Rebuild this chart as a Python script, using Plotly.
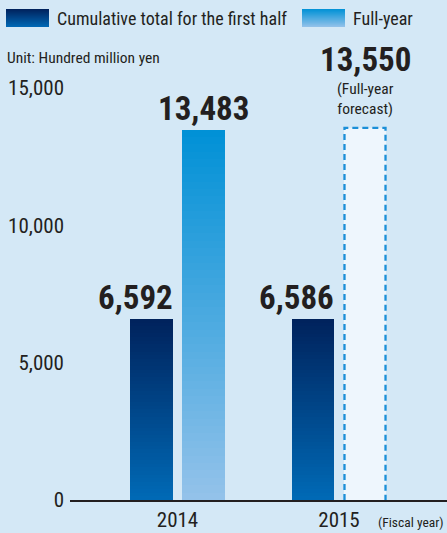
import plotly.graph_objects as go

# ---- data ----
years = ["2014", "2015"]
first_half = [6592, 6586]
full_year = [13483, 13550]
full_year_is_forecast = [False, True]
y_ticks = [0, 5000, 10000, 15000]
y_tick_labels = ["0", "5,000", "10,000", "15,000"]

# ---- style ----
W, H = 447, 533
ML, MR, MT, MB = 70, 0, 88, 33
PW, PH = W - ML - MR, H - MT - MB
BG = "#d4e8f6"
TXT = "#231f20"
FONT = "Roboto Condensed, Liberation Sans Narrow, Arial Narrow, sans-serif"
DARK = ((0, 34, 92), (0, 106, 182))      # top, bottom
LIGHT = ((0, 145, 214), (148, 194, 234))
FC_FILL = "#eef6fd"
FC_LINE = "#1b8fd8"

BAR_W = 0.266
OFF_HALF = -0.294
OFF_FULL = 0.028
N = 50


def mix(c, t):
    a, b = c
    return "rgb(%d,%d,%d)" % tuple(round(a[i] + (b[i] - a[i]) * t) for i in range(3))


def px_x(p):
    return (p - ML) / PW


def px_y(p):
    return (MT + PH - p) / PH


fig = go.Figure()


def gradient_bar(xs, vals, cols, offset):
    X, Y, B, C = [], [], [], []
    for xi, v in zip(xs, vals):
        for i in range(N):
            X.append(xi)
            Y.append(v / N)
            B.append(v * i / N)
            # i = 0 bottom segment
            C.append(mix(cols, 1 - (i + 0.5) / N))
    fig.add_trace(go.Bar(x=X, y=Y, base=B, width=BAR_W, offset=offset,
                         marker=dict(color=C, line=dict(width=0)),
                         showlegend=False, hoverinfo="skip"))


xpos = list(range(len(years)))
gradient_bar(xpos, first_half, DARK, OFF_HALF)
act_x = [x for x, f in zip(xpos, full_year_is_forecast) if not f]
act_v = [v for v, f in zip(full_year, full_year_is_forecast) if not f]
gradient_bar(act_x, act_v, LIGHT, OFF_FULL)

# forecast bar
for x, v, f in zip(xpos, full_year, full_year_is_forecast):
    if f:
        fig.add_trace(go.Bar(x=[x], y=[v], width=BAR_W, offset=OFF_FULL,
                             marker=dict(color=FC_FILL, line=dict(width=0)),
                             showlegend=False, hoverinfo="skip"))
        x0, x1 = x + OFF_FULL + 0.006, x + OFF_FULL + BAR_W - 0.006
        fig.add_trace(go.Scatter(x=[x0, x0, x1, x1], y=[0, v, v, 0], mode="lines",
                                 line=dict(color=FC_LINE, width=2.3, dash="6px,4px"),
                                 showlegend=False, hoverinfo="skip"))

VAL_SIZE = 33
anns = []
# value labels
for x, v in zip(xpos, first_half):
    anns.append(dict(x=x + OFF_HALF + BAR_W + 0.01, y=v, xref="x", yref="y",
                     text="<b>%s</b>" % format(v, ","), showarrow=False,
                     xanchor="right", yanchor="bottom", yshift=0,
                     font=dict(family=FONT, size=VAL_SIZE, color=TXT)))
for x, v, f in zip(xpos, full_year, full_year_is_forecast):
    if not f:
        anns.append(dict(x=x + OFF_FULL + BAR_W / 2, y=v, xref="x", yref="y",
                         text="<b>%s</b>" % format(v, ","), showarrow=False,
                         xanchor="center", yanchor="bottom", yshift=0,
                         font=dict(family=FONT, size=VAL_SIZE, color=TXT)))
    else:
        anns.append(dict(x=x + OFF_FULL + BAR_W / 2, y=v, xref="x", yref="y",
                         text="(Full-year<br>forecast)", showarrow=False,
                         xanchor="center", yanchor="bottom", yshift=8,
                         font=dict(family=FONT, size=15.5, color=TXT)))
        anns.append(dict(x=x + OFF_FULL + BAR_W / 2, y=v, xref="x", yref="y",
                         text="<b>%s</b>" % format(v, ","), showarrow=False,
                         xanchor="center", yanchor="bottom", yshift=47,
                         font=dict(family=FONT, size=VAL_SIZE, color=TXT)))

anns.append(dict(x=px_x(5), y=px_y(58), xref="paper", yref="paper",
                 text="Unit: Hundred million yen", showarrow=False,
                 xanchor="left", yanchor="middle",
                 font=dict(family=FONT, size=15.5, color=TXT)))
anns.append(dict(x=px_x(446), y=px_y(522), xref="paper", yref="paper",
                 text="(Fiscal year)", showarrow=False,
                 xanchor="right", yanchor="middle",
                 font=dict(family=FONT, size=13.5, color=TXT)))

# legend
shapes = []
legend_items = [("Cumulative total for the first half", DARK, 6),
                ("Full-year", LIGHT, 302)]
S = 36
for label, cols, x0 in legend_items:
    y0, y1 = 9, 27
    for i in range(S):
        ya = y0 + (y1 - y0) * i / S
        yb = y0 + (y1 - y0) * (i + 1) / S + 0.6
        shapes.append(dict(type="rect", xref="paper", yref="paper",
                           x0=px_x(x0), x1=px_x(x0 + 43),
                           y0=px_y(min(yb, y1)), y1=px_y(ya),
                           fillcolor=mix(cols, (i + 0.5) / S), line=dict(width=0)))
    anns.append(dict(x=px_x(x0 + 49), y=px_y(18), xref="paper", yref="paper",
                     text=label, showarrow=False, xanchor="left", yanchor="middle",
                     font=dict(family=FONT, size=18, color=TXT)))

fig.update_layout(
    width=W, height=H,
    margin=dict(l=ML, r=MR, t=MT, b=MB),
    paper_bgcolor=BG, plot_bgcolor=BG,
    barmode="overlay", bargap=0,
    showlegend=False,
    annotations=anns, shapes=shapes,
    xaxis=dict(range=[-0.6656, 1.6687], tickvals=xpos, ticktext=years,
               showgrid=False, zeroline=False, showline=True,
               linecolor=TXT, linewidth=1.5, ticks="",
               tickfont=dict(family=FONT, size=21, color=TXT)),
    yaxis=dict(range=[0, 15000], tickvals=y_ticks, ticktext=y_tick_labels,
               showgrid=False, zeroline=False, showline=False, ticks="",
               ticklabelstandoff=5,
               tickfont=dict(family=FONT, size=21, color=TXT)),
)

fig.write_html("out.html", config={"displayModeBar": False},
               post_script="document.body.style.margin='0';document.body.style.overflow='hidden';")
